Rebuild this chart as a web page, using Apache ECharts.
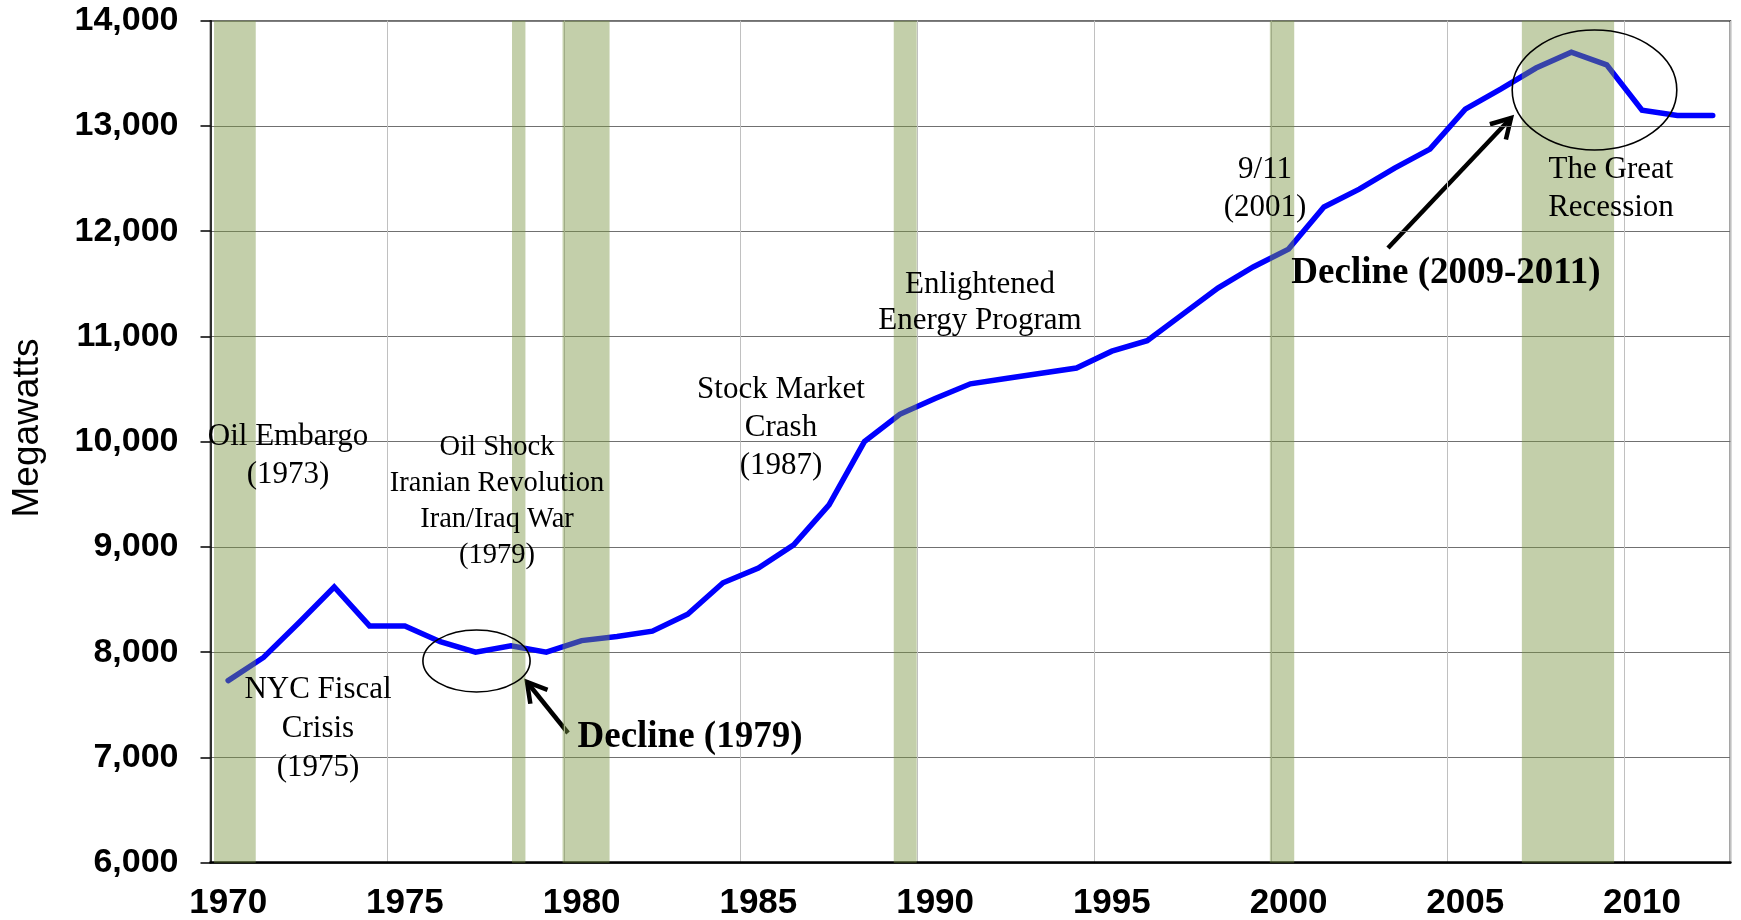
<!DOCTYPE html>
<html>
<head>
<meta charset="utf-8">
<script src="https://cdn.jsdelivr.net/npm/echarts@6/dist/echarts.min.js"></script>
<style>
  html, body { margin: 0; padding: 0; background: #fff; }
  #main { width: 1741px; height: 920px; }
</style>
</head>
<body>
<div id="main"></div>
<script>
// years on the category axis
var years = ['1970', '1971', '1972', '1973', '1974', '1975', '1976', '1977', '1978', '1979',
  '1980', '1981', '1982', '1983', '1984', '1985', '1986', '1987', '1988', '1989',
  '1990', '1991', '1992', '1993', '1994', '1995', '1996', '1997', '1998', '1999',
  '2000', '2001', '2002', '2003', '2004', '2005', '2006', '2007', '2008', '2009',
  '2010', '2011', '2012'];

// peak load, megawatts
var peakLoad = [7730, 7950, 8280, 8620, 8250, 8250, 8100, 8000, 8060, 8000,
  8110, 8150, 8200, 8360, 8660, 8800, 9020, 9400, 10000, 10260,
  10410, 10550, 10600, 10650, 10700, 10860, 10960, 11210, 11460, 11660,
  11830, 12230, 12400, 12600, 12780, 13160, 13350, 13550, 13700, 13580,
  13150, 13100, 13100];

// recession bands (start / end, in axis years)
var recessionStart = [1970.1, 1978.53, 1979.96, 1989.33, 1999.97, 2007.1];
var recessionEnd = [1971.28, 1978.91, 1981.29, 1989.98, 2000.66, 2009.71];

var yTicks = [6000, 7000, 8000, 9000, 10000, 11000, 12000, 13000, 14000];

var bands = recessionStart.map(function (s, i) { return [s, recessionEnd[i]]; });

var chart = echarts.init(document.getElementById('main'));

var serif = "'Liberation Serif', 'Times New Roman', serif";
var sans = "'Liberation Sans', Arial, sans-serif";

function note(text, x, y, size, bold, lh) {
  return {
    type: 'text',
    z: 100,
    style: {
      text: text,
      x: x,
      y: y,
      align: 'center',
      verticalAlign: 'middle',
      fill: '#000',
      font: (bold ? 'bold ' : '') + size + 'px ' + serif,
      lineHeight: lh || size * 1.2
    }
  };
}

// arrow with an open head at (x2, y2)
function arrow(x1, y1, x2, y2) {
  var ang = Math.atan2(y2 - y1, x2 - x1);
  var len = 22, spread = Math.PI / 6;
  var a1 = [x2 - len * Math.cos(ang - spread), y2 - len * Math.sin(ang - spread)];
  var a2 = [x2 - len * Math.cos(ang + spread), y2 - len * Math.sin(ang + spread)];
  return {
    type: 'group',
    z: 100,
    children: [
      { type: 'line', shape: { x1: x1, y1: y1, x2: x2, y2: y2 }, style: { stroke: '#000', lineWidth: 4.5 } },
      { type: 'polyline', shape: { points: [a1, [x2, y2], a2] }, style: { stroke: '#000', lineWidth: 4.5, fill: null, lineJoin: 'miter' } }
    ]
  };
}

function ring(cx, cy, rx, ry) {
  return {
    type: 'ellipse',
    z: 100,
    shape: { cx: cx, cy: cy, rx: rx, ry: ry },
    style: { fill: null, stroke: '#000', lineWidth: 1.6 }
  };
}

var option = {
  backgroundColor: '#fff',
  animation: false,
  grid: {
    left: 210.5,
    right: 10.6,
    top: 20.7,
    bottom: 57.3,
    show: true,
    borderColor: '#000',
    borderWidth: 1.5,
    outerBoundsMode: 'none'
  },
  xAxis: [
    {
      type: 'category',
      data: years,
      boundaryGap: true,
      axisLine: { lineStyle: { color: '#000', width: 2.5 } },
      axisTick: { inside: true, length: 10, interval: 4, lineStyle: { color: '#000', width: 1.5 } },
      axisLabel: {
        interval: 4,
        margin: 23,
        color: '#000',
        fontFamily: sans,
        fontWeight: 'bold',
        fontSize: 35
      },
      splitLine: { show: true, interval: 4, lineStyle: { color: '#c0c0c0', width: 1 } }
    },
    {
      type: 'value',
      min: 1970,
      max: 2013,
      show: false
    }
  ],
  yAxis: {
    type: 'value',
    min: yTicks[0],
    max: yTicks[yTicks.length - 1],
    interval: 1000,
    axisLine: { show: true, lineStyle: { color: '#000', width: 1.5 } },
    axisTick: { show: true, length: 10, lineStyle: { color: '#000', width: 1.5 } },
    axisLabel: {
      margin: 32,
      color: '#000',
      fontFamily: sans,
      fontWeight: 'bold',
      fontSize: 34,
      formatter: function (v) { return v.toLocaleString('en-US'); }
    },
    splitLine: { show: true, lineStyle: { color: '#707070', width: 1.2 } }
  },
  series: [
    {
      name: 'Peak Load',
      type: 'line',
      data: peakLoad,
      symbol: 'none',
      z: 3,
      lineStyle: { color: '#0000ff', width: 5.5, cap: 'round', join: 'miter' }
    },
    {
      name: 'Recession',
      type: 'custom',
      xAxisIndex: 1,
      yAxisIndex: 0,
      z: 5,
      data: bands,
      encode: { x: [0, 1] },
      renderItem: function (params, api) {
        var p0 = api.coord([api.value(0), yTicks[yTicks.length - 1]]);
        var p1 = api.coord([api.value(1), yTicks[0]]);
        return {
          type: 'rect',
          shape: { x: p0[0], y: p0[1], width: p1[0] - p0[0], height: p1[1] - p0[1] },
          style: { fill: 'rgba(123,148,67,0.45)' }
        };
      }
    }
  ],
  graphic: [
    {
      type: 'text',
      z: 100,
      x: 28,
      y: 428,
      rotation: Math.PI / 2,
      style: {
        text: 'Megawatts',
        x: 0,
        y: 0,
        align: 'center',
        verticalAlign: 'middle',
        fill: '#000',
        font: '37px ' + sans
      }
    },
    note('Oil Embargo\n(1973)', 288, 456, 31, false, 38.3),
    note('NYC Fiscal\nCrisis\n(1975)', 318, 729, 31, false, 39),
    note('Oil Shock\nIranian Revolution\nIran/Iraq War\n(1979)', 497, 502, 28.5, false, 36),
    note('Stock Market\nCrash\n(1987)', 781, 428, 31, false, 38.3),
    note('Enlightened\nEnergy Program', 980, 303, 31, false, 36.7),
    note('9/11\n(2001)', 1265, 189, 31, false, 38.3),
    note('The Great\nRecession', 1611, 189, 31, false, 38.3),
    note('Decline (2009-2011)', 1446, 273, 37, true),
    note('Decline (1979)', 690, 737, 37, true),
    ring(476.5, 661, 53.6, 31),
    ring(1594.5, 90, 82.3, 60),
    arrow(568, 733, 527, 682),
    arrow(1388, 248, 1511, 118)
  ]
};

chart.setOption(option);
</script>
</body>
</html>
